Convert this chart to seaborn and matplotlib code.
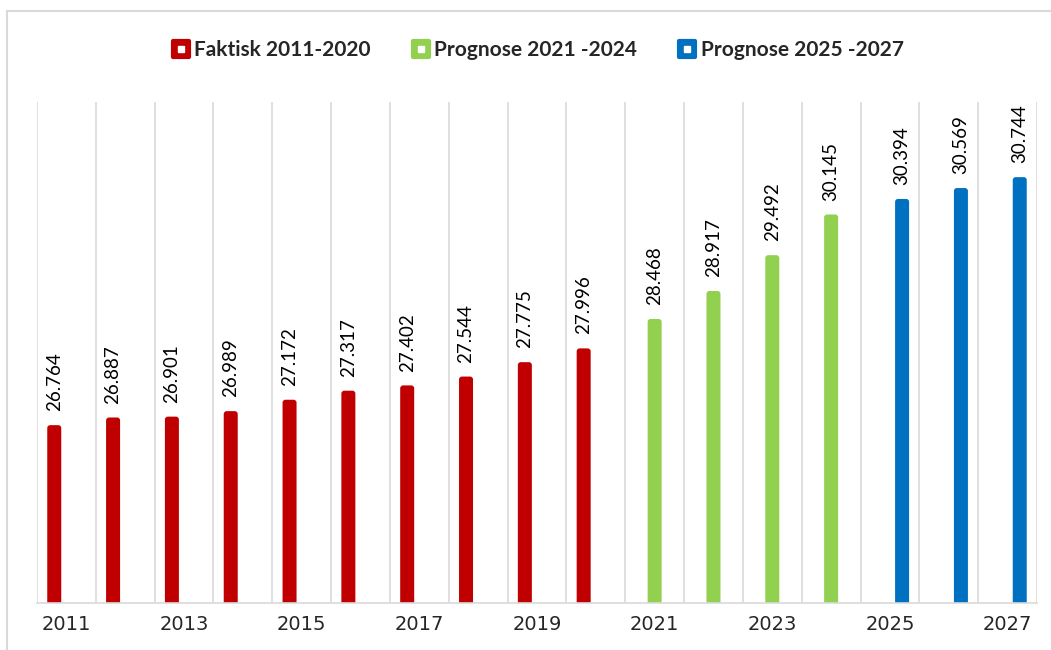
import numpy as np
import pandas as pd
import matplotlib
matplotlib.use("Agg")
import matplotlib.pyplot as plt
from matplotlib.lines import Line2D
from matplotlib.markers import MarkerStyle
from matplotlib.patches import FancyBboxPatch, Rectangle
from matplotlib.legend_handler import HandlerTuple
import seaborn as sns

# data
years = [str(y) for y in range(2011, 2028)]
faktisk = [26.764, 26.887, 26.901, 26.989, 27.172, 27.317, 27.402, 27.544, 27.775, 27.996]
prognose_1 = [28.468, 28.917, 29.492, 30.145]
prognose_2 = [30.394, 30.569, 30.744]
series = ["Faktisk 2011-2020", "Prognose 2021 -2024", "Prognose 2025 -2027"]
colors = ["#C00000", "#92D050", "#0070C0"]

values = faktisk + prognose_1 + prognose_2
labels = [series[0]] * len(faktisk) + [series[1]] * len(prognose_1) + [series[2]] * len(prognose_2)
df = pd.DataFrame({"year": years, "value": values, "serie": labels})

sns.set_style("white")
plt.rcParams["font.family"] = ["DejaVu Sans"]

fig = plt.figure(figsize=(10.51, 6.5), dpi=100)
ax = fig.add_axes([37 / 1051, 1 - 603 / 650, 1000 / 1051, 501 / 650])

sns.barplot(data=df, x="year", y="value", hue="serie", order=years,
            hue_order=series, palette=colors, width=0.62, dodge=True,
            legend=False, ax=ax, saturation=1)

ax.set_ylim(23.91, 31.95)
ax.set_xlim(-0.5, len(years) - 0.5)

# rounded bar tops + rotated value labels
bar_w = 0.238
bars = list(ax.patches)
for p in bars:
    xc = p.get_x() + p.get_width() / 2
    h = p.get_height()
    col = p.get_facecolor()
    p.remove()
    rp = FancyBboxPatch((xc - bar_w / 2, 0), bar_w, h, boxstyle="round,pad=0,rounding_size=0.05",
                        mutation_aspect=0.94, facecolor=col, edgecolor="none")
    ax.add_patch(rp)
    ax.annotate(f"{h:.3f}", (xc, h), xytext=(0, 10), textcoords="offset points",
                rotation=90, ha="center", va="bottom", fontsize=13.5, family="Lato",
                color="#000000")

# category boundary gridlines
ax.set_xticks(np.arange(-0.5, len(years), 1.0), minor=True)
ax.grid(which="minor", axis="x", color="#D9D9D9", linewidth=1.2)
ax.grid(which="major", axis="both", visible=False)
ax.set_xticks(range(0, len(years), 2))
ax.set_xticklabels(years[::2], fontsize=14, family="DejaVu Sans")
ax.tick_params(axis="x", which="both", length=0, pad=9)
ax.set_yticks([])
ax.set_xlabel("")
ax.set_ylabel("")
for s in ["top", "left", "right"]:
    ax.spines[s].set_visible(False)
ax.spines["bottom"].set_color("#D9D9D9")
ax.spines["bottom"].set_linewidth(1.2)

# legend
handles = []
for c in colors:
    big = Line2D([], [], linestyle="none", marker=MarkerStyle("s", joinstyle="round"),
                 markersize=11, markerfacecolor=c, markeredgecolor=c, markeredgewidth=3)
    small = Line2D([], [], linestyle="none", marker="s", markersize=4,
                   markerfacecolor="white", markeredgecolor="white")
    handles.append((big, small))
fig.legend(handles, series, handler_map={tuple: HandlerTuple(ndivide=1, pad=0)},
           loc="center", bbox_to_anchor=(0.511, 1 - 50 / 650), ncol=3, frameon=False,
           prop={"family": "Lato", "weight": "bold", "size": 15},
           handlelength=1.0, handletextpad=0.15, columnspacing=1.9)

# outer chart frame
fig.patches.append(Rectangle((7 / 1051, -0.1), 1.2, 1.1 - 11 / 650, transform=fig.transFigure,
                             facecolor="none", edgecolor="#D9D9D9", linewidth=1.5))

fig.savefig("out.png", dpi=100)
